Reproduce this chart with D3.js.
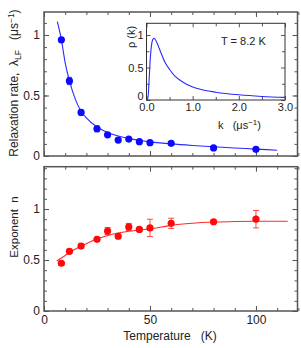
<!DOCTYPE html>
<html>
<head>
<meta charset="utf-8">
<script src="https://cdn.jsdelivr.net/npm/d3@7"></script>
<style>
  body { margin: 0; background: #fff; }
  svg text { font-family: "Liberation Sans", Arial, sans-serif; fill: #222; }
  .tick line { stroke: #555; }
  .tick text { fill: #222; }
</style>
</head>
<body>
<div id="chart"></div>
<script>
// measured data (temperature in K)
var temps = [8.2, 12, 17.5, 25, 30, 35, 40, 45, 50, 60, 80, 100];
var rates = [0.96, 0.62, 0.36, 0.225, 0.175, 0.132, 0.14, 0.118, 0.11, 0.105, 0.067, 0.055];
var rateErr = [0.02, 0.03, 0.02, 0.025, 0.015, 0.01, 0.01, 0.01, 0.01, 0.01, 0.01, 0.01];
var expo = [0.468, 0.585, 0.637, 0.703, 0.784, 0.733, 0.824, 0.80, 0.815, 0.86, 0.875, 0.90];
var expoErr = [0.02, 0.02, 0.02, 0.02, 0.035, 0.02, 0.035, 0.02, 0.085, 0.05, 0.015, 0.085];

// fitted curves
var rateFitT = [6.3, 8, 10, 12, 15, 17.5, 20, 25, 30, 35, 40, 50, 60, 70, 80, 90, 100, 110];
var rateFit = [1.11, 0.98, 0.77, 0.62, 0.46, 0.37, 0.315, 0.24, 0.195, 0.165, 0.145, 0.117, 0.1, 0.087, 0.076, 0.066, 0.057, 0.048];
var expoFitT = [6, 10, 15, 20, 25, 30, 35, 40, 45, 50, 60, 70, 80, 90, 100, 115];
var expoFit = [0.49, 0.545, 0.61, 0.66, 0.705, 0.74, 0.765, 0.782, 0.795, 0.805, 0.84, 0.86, 0.872, 0.878, 0.88, 0.88];

// inset: rate distribution at T = 8.2 K
var kVals = [0, 0.02, 0.04, 0.06, 0.08, 0.1, 0.13, 0.16, 0.2, 0.25, 0.3, 0.4, 0.5, 0.6, 0.8, 1.0, 1.25, 1.5, 2.0, 2.5, 3.0];
var rhoVals = [0, 0.01, 0.1, 0.35, 0.62, 0.79, 0.92, 0.95, 0.92, 0.84, 0.75, 0.58, 0.47, 0.38, 0.27, 0.2, 0.15, 0.12, 0.08, 0.055, 0.04];

var xMajor = [0, 50, 100];
var xMinor = d3.range(0, 121, 10);
var yMajor = [0, 0.5, 1];
var yMinor = d3.range(0, 1.41, 0.1);
var kMajor = [0, 1, 2, 3];
var kMajorLabels = ["0.0", "1.0", "2.0", "3.0"];
var kMinor = [0.5, 1.5, 2.5];
var rhoMajor = [0, 0.5, 1];
var rhoMinor = [0.25, 0.75];

var svgWidth = 301;
var svgHeight = 348;

var svg = d3.select("#chart")
  .append("svg")
  .attr("width", svgWidth)
  .attr("height", svgHeight);

// scales
var x = d3.scaleLinear().domain([0, 119.6]).range([44, 297.5]);
var yTop = d3.scaleLinear().domain([0, 1.19]).range([156, 12]);
var yBot = d3.scaleLinear().domain([0, 1.415]).range([311, 166.7]);
var kx = d3.scaleLinear().domain([0, 3]).range([146.5, 285]);
var ry = d3.scaleLinear().domain([0, 1.18]).range([100, 23.3]);

// frame with inward ticks on all four sides
function frame(xs, ys, opt) {
  var g = svg.append("g");
  var x0 = xs.range()[0], x1 = xs.range()[1];
  var y0 = ys.range()[0], y1 = ys.range()[1];
  var sets = [
    [d3.axisBottom, xs, y0, opt.xMinor, opt.minorLen, false],
    [d3.axisBottom, xs, y0, opt.xMajor, opt.majorLen, opt.xLabels],
    [d3.axisTop, xs, y1, opt.xMinor, opt.minorLen, false],
    [d3.axisTop, xs, y1, opt.xMajor, opt.majorLen, false],
    [d3.axisLeft, ys, x0, opt.yMinor, opt.minorLen, false],
    [d3.axisLeft, ys, x0, opt.yMajor, opt.majorLen, opt.yLabels],
    [d3.axisRight, ys, x1, opt.yMinor, opt.minorLen, false],
    [d3.axisRight, ys, x1, opt.yMajor, opt.majorLen, false]
  ];
  sets.forEach(function(s) {
    var horiz = s[0] === d3.axisBottom || s[0] === d3.axisTop;
    var ax = s[0](s[1]).tickValues(s[3]).tickSizeInner(-s[4]).tickSizeOuter(0)
      .tickPadding(s[5] ? opt.pad : 0)
      .tickFormat(s[5] ? s[5] : "");
    var a = g.append("g")
      .attr("transform", horiz ? "translate(0," + s[2] + ")" : "translate(" + s[2] + ",0)")
      .call(ax);
    a.select(".domain").remove();
    a.selectAll(".tick line").attr("stroke", opt.color).attr("stroke-width", 1);
    a.selectAll("text").style("font-size", opt.font + "px").attr("fill", "#222");
  });
  g.append("rect")
    .attr("x", x0).attr("y", y1)
    .attr("width", x1 - x0).attr("height", y0 - y1)
    .attr("fill", "none")
    .attr("stroke", opt.color)
    .attr("stroke-width", opt.frameWidth);
  return g;
}

var fmtMain = function(d) { return d === 0 ? "0" : (d === 1 ? "1" : d3.format("")(d)); };

frame(x, yTop, {
  xMinor: xMinor, xMajor: xMajor, yMinor: yMinor.filter(d => d <= 1.19), yMajor: yMajor,
  xLabels: false, yLabels: fmtMain, majorLen: 5, minorLen: 3, pad: 4, font: 12,
  color: "#555", frameWidth: 1.5
});

frame(x, yBot, {
  xMinor: xMinor, xMajor: xMajor, yMinor: yMinor, yMajor: yMajor,
  xLabels: fmtMain, yLabels: fmtMain, majorLen: 5, minorLen: 3, pad: 4, font: 12,
  color: "#555", frameWidth: 1.5
});

// top panel: relaxation rate
var rateLine = d3.line()
  .x((d, i) => x(rateFitT[i]))
  .y(d => yTop(d))
  .curve(d3.curveMonotoneX);

svg.append("path")
  .datum(rateFit)
  .attr("d", rateLine)
  .attr("fill", "none")
  .attr("stroke", "#2a2aff")
  .attr("stroke-width", 1.1);

var rateG = svg.append("g");
temps.forEach(function(t, i) {
  var cx = x(t);
  var lo = yTop(rates[i] - rateErr[i]), hi = yTop(rates[i] + rateErr[i]);
  rateG.append("line").attr("x1", cx).attr("x2", cx).attr("y1", lo).attr("y2", hi)
    .attr("stroke", "#4040ff").attr("stroke-width", 1);
  [lo, hi].forEach(function(yy) {
    rateG.append("line").attr("x1", cx - 2.5).attr("x2", cx + 2.5).attr("y1", yy).attr("y2", yy)
      .attr("stroke", "#4040ff").attr("stroke-width", 1);
  });
});
rateG.selectAll("circle")
  .data(rates)
  .enter()
  .append("circle")
  .attr("cx", (d, i) => x(temps[i]))
  .attr("cy", d => yTop(d))
  .attr("r", 3.6)
  .attr("fill", "#0a0aff");

// bottom panel: exponent
var expoLine = d3.line()
  .x((d, i) => x(expoFitT[i]))
  .y(d => yBot(d))
  .curve(d3.curveMonotoneX);

svg.append("path")
  .datum(expoFit)
  .attr("d", expoLine)
  .attr("fill", "none")
  .attr("stroke", "#ff2a2a")
  .attr("stroke-width", 1.1);

var expoG = svg.append("g");
temps.forEach(function(t, i) {
  var cx = x(t);
  var lo = yBot(expo[i] - expoErr[i]), hi = yBot(expo[i] + expoErr[i]);
  expoG.append("line").attr("x1", cx).attr("x2", cx).attr("y1", lo).attr("y2", hi)
    .attr("stroke", "#ff4a4a").attr("stroke-width", 1);
  [lo, hi].forEach(function(yy) {
    expoG.append("line").attr("x1", cx - 3).attr("x2", cx + 3).attr("y1", yy).attr("y2", yy)
      .attr("stroke", "#ff4a4a").attr("stroke-width", 1);
  });
});
expoG.selectAll("circle")
  .data(expo)
  .enter()
  .append("circle")
  .attr("cx", (d, i) => x(temps[i]))
  .attr("cy", d => yBot(d))
  .attr("r", 3.6)
  .attr("fill", "#ff0a0a");

// inset
svg.append("rect")
  .attr("x", 146.5).attr("y", 23.3)
  .attr("width", 138.5).attr("height", 76.7)
  .attr("fill", "#fff");

var insetG = frame(kx, ry, {
  xMinor: kMinor, xMajor: kMajor, yMinor: rhoMinor, yMajor: rhoMajor,
  xLabels: (d, i) => kMajorLabels[i], yLabels: fmtMain, majorLen: 4, minorLen: 3, pad: 3, font: 11,
  color: "#333", frameWidth: 1
});
// lift the inset's "0" a little so it clears "0.0"
insetG.selectAll(".tick text")
  .filter(function() { return d3.select(this).text() === "0"; })
  .attr("dy", "-0.05em");

var rhoLine = d3.line()
  .x((d, i) => kx(kVals[i]))
  .y(d => ry(d))
  .curve(d3.curveMonotoneX);

svg.append("path")
  .datum(rhoVals)
  .attr("d", rhoLine)
  .attr("fill", "none")
  .attr("stroke", "#2a2aff")
  .attr("stroke-width", 1.1);

svg.append("text")
  .attr("x", 221).attr("y", 45)
  .style("font-size", "11px")
  .text("T = 8.2 K");

// inset axis labels
var kLab = svg.append("text")
  .attr("x", 218).attr("y", 129)
  .style("font-size", "11px");
kLab.append("tspan").text("k\u00a0\u00a0\u00a0(\u03bcs");
kLab.append("tspan").attr("dy", -4).style("font-size", "8px").text("\u22121");
kLab.append("tspan").attr("dy", 4).text(")");

svg.append("text")
  .attr("transform", "translate(135, 37) rotate(-90)")
  .style("text-anchor", "middle")
  .style("font-size", "11px")
  .text("\u03c1 (k)");

// main axis labels
var yLab = svg.append("text")
  .attr("transform", "translate(18, 83) rotate(-90)")
  .style("text-anchor", "middle")
  .style("font-size", "12px");
yLab.append("tspan").text("Relaxation rate,\u00a0\u00a0\u03bb");
yLab.append("tspan").attr("dy", 3).style("font-size", "8.5px").text("LF");
yLab.append("tspan").attr("dy", -3).text("\u00a0\u00a0\u00a0(\u03bcs");
yLab.append("tspan").attr("dy", -4).style("font-size", "8.5px").text("\u22121");
yLab.append("tspan").attr("dy", 4).text(")");

svg.append("text")
  .attr("transform", "translate(18, 227) rotate(-90)")
  .style("text-anchor", "middle")
  .style("font-size", "11.5px")
  .text("Exponent\u00a0\u00a0n");

svg.append("text")
  .attr("x", 170).attr("y", 340)
  .style("text-anchor", "middle")
  .style("font-size", "12px")
  .text("Temperature\u00a0\u00a0\u00a0(K)");
</script>
</body>
</html>
